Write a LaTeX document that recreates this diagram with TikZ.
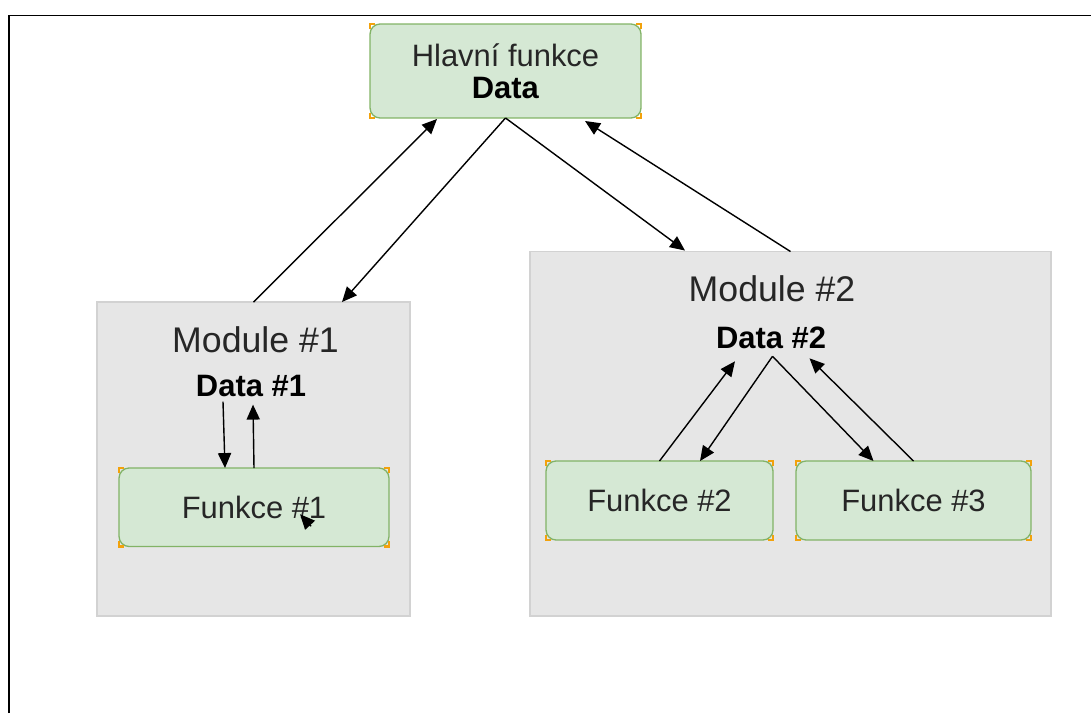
\documentclass[tikz,border=0pt]{standalone}
\usepackage{fontspec}
\setmainfont{Liberation Sans}
\usetikzlibrary{arrows.meta,calc}
\definecolor{FnFill}{HTML}{D5E8D4}
\definecolor{FnLine}{HTML}{82B366}
\definecolor{ModFill}{HTML}{E6E6E6}
\definecolor{ModLine}{HTML}{D2D2D2}
\definecolor{HandleOrange}{HTML}{F2A20C}
\definecolor{TextDark}{HTML}{262626}

\begin{document}
\begin{tikzpicture}[x=0.02cm,y=-0.02cm,
    every node/.style={font=\fontsize{17.6}{18}\selectfont, text=TextDark},
    fn/.style={draw=FnLine, fill=FnFill, line width=0.75pt,
      rounded corners=0.2cm, outer sep=0pt, align=center},
    mod/.style={draw=ModLine, fill=ModFill, line width=0.75pt, outer sep=0pt},
    modlbl/.style={font=\fontsize{20.3}{22}\selectfont, inner sep=0pt},
    dat/.style={font=\bfseries\fontsize{17.6}{18}\selectfont, text=black, inner sep=0pt},
    ar/.style={-{Triangle[length=8.5pt,width=7.5pt]}, line width=0.8pt},
    hnd/.style={HandleOrange, line width=1.3pt}]
  \useasboundingbox (0,0) rectangle (1091,713);
  % page frame
  \draw[line width=1.1pt] (9,713) -- (9,15.5) -- (1091,15.5);

  % modules
  \node[mod, minimum width=6.26cm, minimum height=6.28cm] (mod1) at (253.5,459) {};
  \node[mod, minimum width=10.42cm, minimum height=7.29cm] (mod2) at (790.5,433.75) {};
  \node[modlbl] (m1) at (255.5,340) {Module \#1};
  \node[modlbl] (m2) at (772,288.5) {Module \#2};
  \node[dat] (d1) at (251,386) {Data \#1};
  \node[dat] (d2) at (771,337.5) {Data \#2};

  % functions
  \node[fn, minimum width=5.42cm, minimum height=1.88cm] (main) at (505.5,71)
    {Hlavní funkce\\\textcolor{black}{\textbf{Data}}};
  \node[fn, minimum width=5.4cm, minimum height=1.57cm] (f1) at (254,507.25) {Funkce \#1};
  \node[fn, minimum width=4.54cm, minimum height=1.58cm] (f2) at (659.5,500.5) {Funkce \#2};
  \node[fn, minimum width=4.7cm, minimum height=1.58cm] (f3) at (913.5,500.5) {Funkce \#3};

  \draw[ar](mod1.north)--($(main.south)+(-68.5,1)$);
  \draw[ar](main.south)--($(mod1.north)+(88.5,0)$);
  \draw[ar](main.south)--($(mod2.north)+(-105.5,-1)$);
  \draw[ar](mod2.north)--($(main.south)+(79.5,3)$);

  \draw[ar]($(d1.south)+(-28,4.5)$)--($(f1.north)+(-29,0)$);
  \draw[ar](f1.north)--($(d1.south)+(2,7.5)$);
  \coordinate (s1) at ($(f1.center)+(57,19)$);
  \coordinate (s2) at ($(f1.center)+(46,7)$);
  \draw[ar](s1)--(s2);

  \draw[ar](f2.north)--($(d2.south)+(-36,12.5)$);
  \draw[ar]($(d2.south)+(1.5,7.5)$)--($(f2.north)+(40.5,0)$);
  \draw[ar]($(d2.south)+(1.5,7.5)$)--($(f3.north)+(-40,0)$);
  \draw[ar](f3.north)--($(d2.south)+(38.5,9.5)$);

  % selection handles on the function boxes
  \foreach \n in {main,f1,f2,f3}
    \foreach \c/\sx/\sy in {north west/1/1,north east/-1/1,south west/1/-1,south east/-1/-1}
      \draw[hnd] ($(\n.\c)+(0,5*\sy)$)--(\n.\c)--($(\n.\c)+(5*\sx,0)$);
\end{tikzpicture}
\end{document}
